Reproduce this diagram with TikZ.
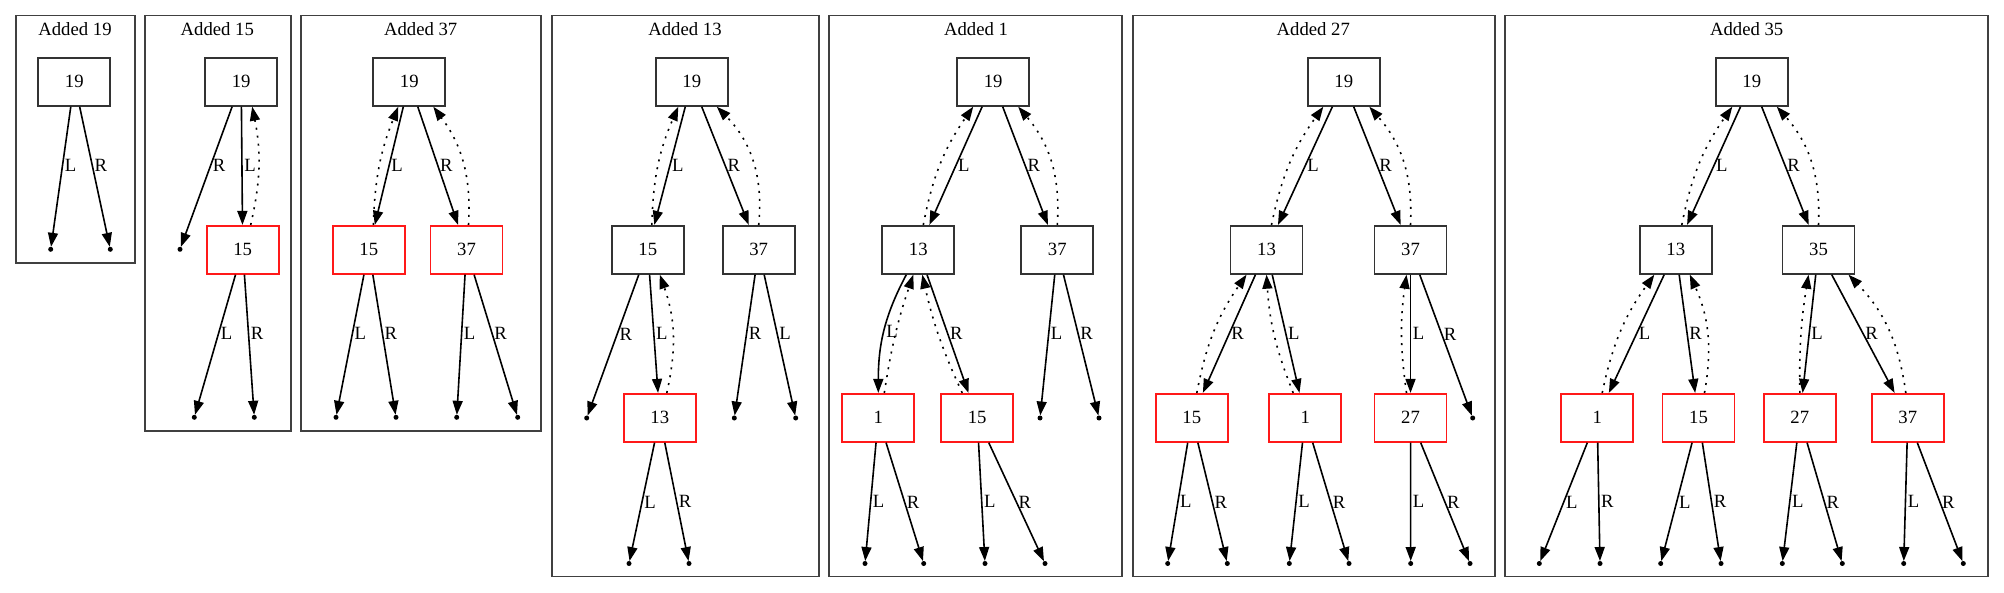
\documentclass[tikz,border=0pt]{standalone}
\usepackage{fontspec}
\setmainfont{Liberation Serif}
\usetikzlibrary{arrows.meta}

\begin{document}
\begin{tikzpicture}[
  x=1pt,
  y=1pt,
  font=\fontsize{18.7}{22}\selectfont,
  key/.style={
    rectangle,
    draw=black!80,
    line width=1.8pt,
    minimum width=72pt,
    minimum height=48pt,
    inner sep=0pt
  },
  fresh/.style={
    key,
    draw=red!90!white
  },
  nil/.style={
    circle,
    fill=black,
    outer sep=0pt,
    inner sep=0pt,
    minimum size=5pt
  },
  kid/.style={
    line width=1.6pt,
    -{Triangle[length=14pt,width=10pt]}
  },
  up/.style={
    kid,
    dash pattern=on 2pt off 6pt
  },
  lbl/.style={
    anchor=west,
    inner sep=1.5pt
  },
  frame/.style={
    draw=black!75,
    line width=1.8pt
  }
]
\useasboundingbox (0,0) rectangle (2004,-593);

\draw[frame] (15.7,-15.5) rectangle (134.7,-263);
\node[anchor=base] (ta) at (75,-36) {Added 19};
\node[key] (a19) at (74.3,-81.8) {19};
\node[nil] (a19l) at (50.7,-249.3) {};
\node[nil] (a19r) at (110.3,-249.3) {};
\draw[kid] (a19) -- node[lbl,pos=.42] {L} (a19l);
\draw[kid] (a19) -- node[lbl,pos=.42] {R} (a19r);

\draw[frame] (145,-15.5) rectangle (290.7,-431);
\node[anchor=base] (tb) at (217.3,-36) {Added 15};
\node[key] (b19) at (241.2,-81.8) {19};
\node[fresh] (b15) at (242.7,-249.8) {15};
\node[nil] (b19r) at (180,-249.3) {};
\node[nil] (b15l) at (194.3,-417.3) {};
\node[nil] (b15r) at (254.3,-417.3) {};
\draw[kid] (b19) -- node[lbl,pos=.42] {R} (b19r);
\draw[kid] (b19) -- node[lbl] {L} (b15);
\draw[up] ([xshift=8pt]b15.north) to[bend right=12] ([xshift=11pt]b19.south);
\draw[kid] (b15) -- node[lbl,pos=.42] {L} (b15l);
\draw[kid] (b15) -- node[lbl,pos=.42] {R} (b15r);

\draw[frame] (301.3,-15.5) rectangle (540.7,-431);
\node[anchor=base] (tc) at (420.7,-36) {Added 37};
\node[key] (c19) at (409.3,-81.8) {19};
\node[fresh] (c15) at (368.8,-249.8) {15};
\node[fresh] (c37) at (466.5,-249.8) {37};
\node[nil] (c15l) at (336,-417.3) {};
\node[nil] (c15r) at (396,-417.3) {};
\node[nil] (c37l) at (456.7,-417.3) {};
\node[nil] (c37r) at (517.7,-417.3) {};
\draw[kid] (c19) -- node[lbl] {L} (c15);
\draw[kid] (c19) -- node[lbl] {R} (c37);
\draw[up] ([xshift=4.5pt]c15.north) to[bend left=10] ([xshift=-11pt]c19.south);
\draw[up] ([xshift=2pt]c37.north) to[bend right=20] ([xshift=24pt]c19.south);
\draw[kid] (c15) -- node[lbl,pos=.42] {L} (c15l);
\draw[kid] (c15) -- node[lbl,pos=.42] {R} (c15r);
\draw[kid] (c37) -- node[lbl,pos=.42] {L} (c37l);
\draw[kid] (c37) -- node[lbl,pos=.42] {R} (c37r);

\draw[frame] (551.7,-15.5) rectangle (819,-576.5);
\node[anchor=base] (td) at (685,-36) {Added 13};
\node[key] (d19) at (691.8,-81.8) {19};
\node[key] (d15) at (647.8,-249.8) {15};
\node[key] (d37) at (758.7,-249.8) {37};
\node[fresh] (d13) at (659.8,-417.8) {13};
\node[nil] (d15r) at (586.7,-418) {};
\node[nil] (d37a) at (734.3,-418) {};
\node[nil] (d37b) at (795.7,-418) {};
\node[nil] (d13l) at (629,-563.5) {};
\node[nil] (d13r) at (689,-563.5) {};
\draw[kid] (d19) -- node[lbl] {L} (d15);
\draw[kid] (d19) -- node[lbl] {R} (d37);
\draw[up] ([xshift=4pt]d15.north) to[bend left=11] ([xshift=-13.5pt]d19.south);
\draw[up] (d37.north) to[bend right=25] ([xshift=25pt]d19.south);
\draw[kid] (d15) -- node[lbl,pos=.42] {R} (d15r);
\draw[kid] (d15) -- node[lbl] {L} (d13);
\draw[up] ([xshift=7pt]d13.north) to[bend right=16] ([xshift=12pt]d15.south);
\draw[kid] (d37) -- node[lbl,pos=.42] {R} (d37a);
\draw[kid] (d37) -- node[lbl,pos=.42] {L} (d37b);
\draw[kid] (d13) -- node[lbl] {L} (d13l);
\draw[kid] (d13) -- node[lbl] {R} (d13r);

\draw[frame] (829,-15.5) rectangle (1122.3,-576.5);
\node[anchor=base] (te) at (976,-36) {Added 1};
\node[key] (e19) at (993.2,-81.8) {19};
\node[key] (e13) at (918.3,-249.8) {13};
\node[key] (e37) at (1057.3,-249.8) {37};
\node[fresh] (e1) at (878.3,-417.8) {1};
\node[fresh] (e15) at (977.2,-417.8) {15};
\node[nil] (e37l) at (1040,-418) {};
\node[nil] (e37r) at (1099,-418) {};
\node[nil] (e1l) at (865,-563.5) {};
\node[nil] (e1r) at (923.7,-563.5) {};
\node[nil] (e15l) at (985,-563.5) {};
\node[nil] (e15r) at (1045,-563.5) {};
\draw[kid] (e19) -- node[lbl] {L} (e13);
\draw[kid] (e19) -- node[lbl] {R} (e37);
\draw[up] ([xshift=5pt]e13.north) to[bend left=12] ([xshift=-20pt]e19.south);
\draw[up] (e37.north) to[bend right=22] ([xshift=25pt]e19.south);
\draw[kid] ([xshift=-12pt]e13.south) to[out=-118,in=90] node[lbl] {L} (e1.north);
\draw[kid] (e13) -- node[lbl] {R} (e15);
\draw[up] ([xshift=6pt]e1.north) to[bend left=5] ([xshift=-5pt]e13.south);
\draw[up] ([xshift=-15pt]e15.north) to[bend left=6] ([xshift=4pt]e13.south);
\draw[kid] (e37) -- node[lbl,pos=.42] {L} (e37l);
\draw[kid] (e37) -- node[lbl,pos=.42] {R} (e37r);
\draw[kid] (e1) -- node[lbl] {L} (e1l);
\draw[kid] (e1) -- node[lbl] {R} (e1r);
\draw[kid] (e15) -- node[lbl] {L} (e15l);
\draw[kid] (e15) -- node[lbl] {R} (e15r);

\draw[frame] (1132.7,-15.5) rectangle (1494.7,-576.5);
\node[anchor=base] (tf) at (1313.3,-36) {Added 27};
\node[key] (f19) at (1343.8,-81.8) {19};
\node[key] (f13) at (1266.5,-249.8) {13};
\node[key] (f37) at (1410.5,-249.8) {37};
\node[fresh] (f15) at (1191.8,-417.8) {15};
\node[fresh] (f1) at (1305.2,-417.8) {1};
\node[fresh] (f27) at (1410.5,-417.8) {27};
\node[nil] (f37r) at (1472.7,-418) {};
\node[nil] (f15l) at (1167.7,-563.5) {};
\node[nil] (f15r) at (1227.3,-563.5) {};
\node[nil] (f1l) at (1289.3,-563.5) {};
\node[nil] (f1r) at (1349,-563.5) {};
\node[nil] (f27l) at (1410.7,-563.5) {};
\node[nil] (f27r) at (1470,-563.5) {};
\draw[kid] (f19) -- node[lbl] {L} (f13);
\draw[kid] (f19) -- node[lbl] {R} (f37);
\draw[up] ([xshift=5pt]f13.north) to[bend left=12] ([xshift=-20.5pt]f19.south);
\draw[up] (f37.north) to[bend right=22] ([xshift=25.5pt]f19.south);
\draw[kid] (f13) -- node[lbl] {R} (f15);
\draw[kid] (f13) -- node[lbl] {L} (f1);
\draw[up] ([xshift=5pt]f15.north) to[bend left=12] ([xshift=-20pt]f13.south);
\draw[up] ([xshift=-12pt]f1.north) to[bend left=9] (f13.south);
\draw[kid] (f37) -- node[lbl] {L} (f27);
\draw[kid] (f37) -- node[lbl,pos=.42] {R} (f37r);
\draw[up] ([xshift=-4pt]f27.north) to[bend left=8] ([xshift=-4pt]f37.south);
\draw[kid] (f15) -- node[lbl] {L} (f15l);
\draw[kid] (f15) -- node[lbl] {R} (f15r);
\draw[kid] (f1) -- node[lbl] {L} (f1l);
\draw[kid] (f1) -- node[lbl] {R} (f1r);
\draw[kid] (f27) -- node[lbl] {L} (f27l);
\draw[kid] (f27) -- node[lbl] {R} (f27r);

\draw[frame] (1505,-15.5) rectangle (1987.7,-576.5);
\node[anchor=base] (tg) at (1746.7,-36) {Added 35};
\node[key] (g19) at (1751.8,-81.8) {19};
\node[key] (g13) at (1675.8,-249.8) {13};
\node[key] (g35) at (1818.5,-249.8) {35};
\node[fresh] (g1) at (1597.2,-417.8) {1};
\node[fresh] (g15) at (1698.5,-417.8) {15};
\node[fresh] (g27) at (1799.8,-417.8) {27};
\node[fresh] (g37) at (1907.8,-417.8) {37};
\node[nil] (g1l) at (1539.3,-563.5) {};
\node[nil] (g1r) at (1600,-563.5) {};
\node[nil] (g15l) at (1660.7,-563.5) {};
\node[nil] (g15r) at (1721,-563.5) {};
\node[nil] (g27l) at (1782.3,-563.5) {};
\node[nil] (g27r) at (1842.3,-563.5) {};
\node[nil] (g37l) at (1903.7,-563.5) {};
\node[nil] (g37r) at (1963.3,-563.5) {};
\draw[kid] (g19) -- node[lbl] {L} (g13);
\draw[kid] (g19) -- node[lbl] {R} (g35);
\draw[up] ([xshift=6pt]g13.north) to[bend left=12] ([xshift=-19.5pt]g19.south);
\draw[up] (g35.north) to[bend right=22] ([xshift=25pt]g19.south);
\draw[kid] (g13) -- node[lbl] {L} (g1);
\draw[kid] (g13) -- node[lbl] {R} (g15);
\draw[up] ([xshift=5pt]g1.north) to[bend left=12] ([xshift=-21.5pt]g13.south);
\draw[up] ([xshift=6pt]g15.north) to[bend right=17] ([xshift=14pt]g13.south);
\draw[kid] (g35) -- node[lbl] {L} (g27);
\draw[kid] (g35) -- node[lbl] {R} (g37);
\draw[up] (g27.north) to[bend left=5] ([xshift=-10pt]g35.south);
\draw[up] ([xshift=-2pt]g37.north) to[bend right=18] ([xshift=30pt]g35.south);
\draw[kid] (g1) -- node[lbl] {L} (g1l);
\draw[kid] (g1) -- node[lbl] {R} (g1r);
\draw[kid] (g15) -- node[lbl] {L} (g15l);
\draw[kid] (g15) -- node[lbl] {R} (g15r);
\draw[kid] (g27) -- node[lbl] {L} (g27l);
\draw[kid] (g27) -- node[lbl] {R} (g27r);
\draw[kid] (g37) -- node[lbl] {L} (g37l);
\draw[kid] (g37) -- node[lbl] {R} (g37r);
\end{tikzpicture}
\end{document}
